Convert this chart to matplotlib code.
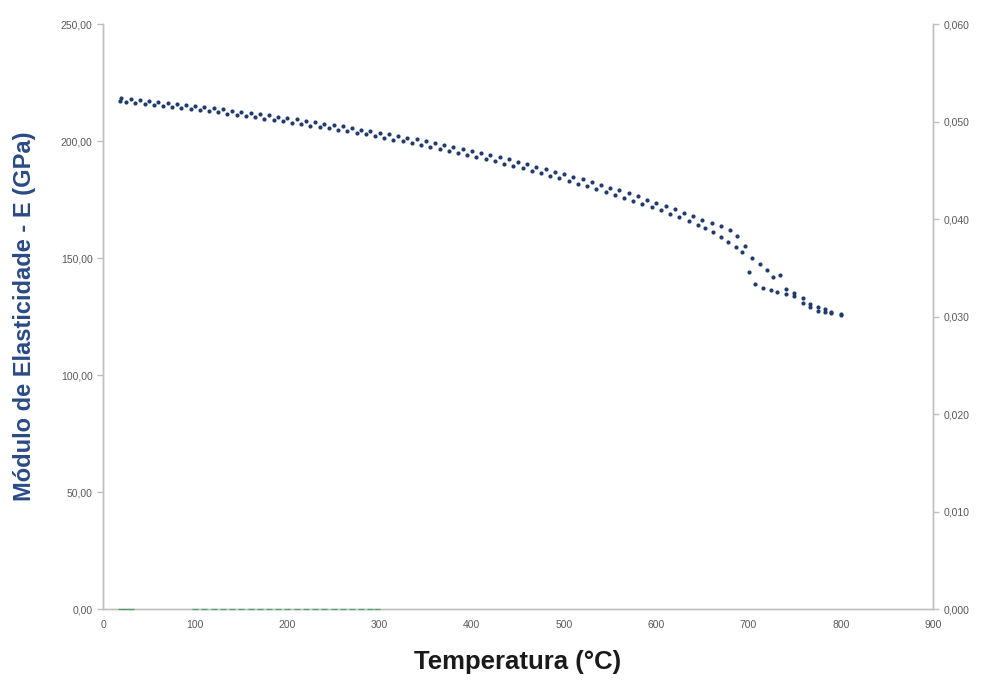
import matplotlib.pyplot as plt
import numpy as np
from matplotlib.ticker import FuncFormatter, MultipleLocator

plt.rcParams['font.family'] = ['Liberation Sans', 'DejaVu Sans']

# heating branch (upper points of the zig-zag)
temp_a = [20, 30, 40, 50, 60, 70, 80, 90, 100, 110, 120, 130, 140, 150, 160, 170, 180, 190,
          200, 210, 220, 230, 240, 250, 260, 270, 280, 290, 300, 310, 320, 330, 340, 350, 360,
          370, 380, 390, 400, 410, 420, 430, 440, 450, 460, 470, 480, 490, 500, 510, 520, 530,
          540, 550, 560, 570, 580, 590, 600, 610, 620, 630, 640, 650, 660, 670, 680, 688, 696,
          704, 712, 720, 727, 734, 741, 749, 759, 767, 775, 783, 790, 800]
mod_a = [218.4, 218.0, 217.4, 217.0, 216.6, 216.2, 215.8, 215.4, 215.0, 214.5, 214.0, 213.5,
         213.0, 212.5, 212.0, 211.4, 210.9, 210.3, 209.8, 209.2, 208.6, 208.0, 207.4, 206.8,
         206.2, 205.5, 204.9, 204.2, 203.6, 202.9, 202.2, 201.4, 200.7, 199.9, 199.1, 198.3,
         197.5, 196.6, 195.8, 194.9, 194.0, 193.0, 192.1, 191.1, 190.1, 189.1, 188.0, 186.9,
         185.9, 184.8, 183.6, 182.5, 181.3, 180.1, 178.9, 177.6, 176.3, 175.0, 173.7, 172.3,
         170.9, 169.4, 167.9, 166.3, 164.8, 163.6, 161.9, 159.4, 155.0, 150.0, 147.5, 144.8,
         141.7, 142.8, 136.6, 135.0, 132.8, 130.5, 129.2, 128.0, 127.0, 126.0]

# cooling branch (lower points of the zig-zag)
temp_b = [18, 25, 35, 45, 55, 65, 75, 85, 95, 105, 115, 125, 135, 145, 155, 165, 175, 185, 195,
          205, 215, 225, 235, 245, 255, 265, 275, 285, 295, 305, 315, 325, 335, 345, 355, 365,
          375, 385, 395, 405, 415, 425, 435, 445, 455, 465, 475, 485, 495, 505, 515, 525, 535,
          545, 555, 565, 575, 585, 595, 605, 615, 625, 635, 645, 653, 661, 670, 678, 686, 693,
          700, 707, 716, 724, 731, 741, 749, 759, 767, 775, 783, 790, 800]
mod_b = [217.0, 216.8, 216.2, 215.8, 215.3, 214.9, 214.5, 214.1, 213.7, 213.2, 212.7, 212.2,
         211.7, 211.2, 210.6, 210.1, 209.5, 209.0, 208.4, 207.8, 207.2, 206.6, 206.0, 205.4,
         204.7, 204.1, 203.4, 202.8, 202.1, 201.4, 200.6, 199.9, 199.1, 198.3, 197.5, 196.7,
         195.8, 195.0, 194.1, 193.2, 192.2, 191.3, 190.3, 189.3, 188.3, 187.3, 186.2, 185.1,
         184.0, 182.9, 181.8, 180.6, 179.4, 178.2, 177.0, 175.7, 174.4, 173.1, 171.8, 170.4,
         168.9, 167.4, 165.8, 164.2, 162.8, 161.2, 159.1, 157.0, 154.6, 152.7, 144.2, 138.8,
         137.3, 136.3, 135.6, 134.6, 133.8, 130.6, 128.9, 127.5, 127.1, 126.6, 125.6]

# secondary series (right axis), all at zero
temp_c = [20, 25, 30, 100, 110, 120, 130, 140, 150, 160, 170, 180, 190, 200, 210, 220, 230,
          240, 250, 260, 270, 280, 290, 297]
val_c = [0.0] * len(temp_c)

blue = '#1f3b6f'
grey = '#bfbfbf'
tick_col = '#595959'

fig = plt.figure(figsize=(9.81, 6.80), dpi=100)
ax = fig.add_axes([0.105, 0.1044, 0.846, 0.8603])
ax2 = ax.twinx()

ax.scatter(temp_a, mod_a, s=9, color=blue, zorder=3, linewidths=0)
ax.scatter(temp_b, mod_b, s=9, color=blue, zorder=3, linewidths=0)
ax2.plot(temp_c, val_c, linestyle='none', marker='_', markersize=5, markeredgewidth=0.9,
         color='#4f9e68', clip_on=False, zorder=4)

ax.set_xlim(0, 900)
ax.set_ylim(0, 250)
ax2.set_ylim(0, 0.06)
ax.xaxis.set_major_locator(MultipleLocator(100))
ax.yaxis.set_major_locator(MultipleLocator(50))
ax2.yaxis.set_major_locator(MultipleLocator(0.01))

ax.yaxis.set_major_formatter(FuncFormatter(lambda v, p: f'{v:.2f}'.replace('.', ',')))
ax2.yaxis.set_major_formatter(FuncFormatter(lambda v, p: f'{v:.3f}'.replace('.', ',')))

for a in (ax, ax2):
    a.spines['top'].set_visible(False)
    for s in ('left', 'right', 'bottom'):
        a.spines[s].set_color(grey)
        a.spines[s].set_linewidth(1.0)
    a.tick_params(colors=grey, labelcolor=tick_col, labelsize=7.5, length=4, width=1.0)
ax.tick_params(axis='x', length=0, pad=8)

ax.set_xlabel('Temperatura (°C)', fontsize=18.5, fontweight='bold', color='#1a1a1a', labelpad=14)
ax.set_ylabel('Módulo de Elasticidade - E (GPa)', fontsize=17, fontweight='bold',
              color='#2a4a86', labelpad=18)

fig.savefig('out.png', dpi=100)
